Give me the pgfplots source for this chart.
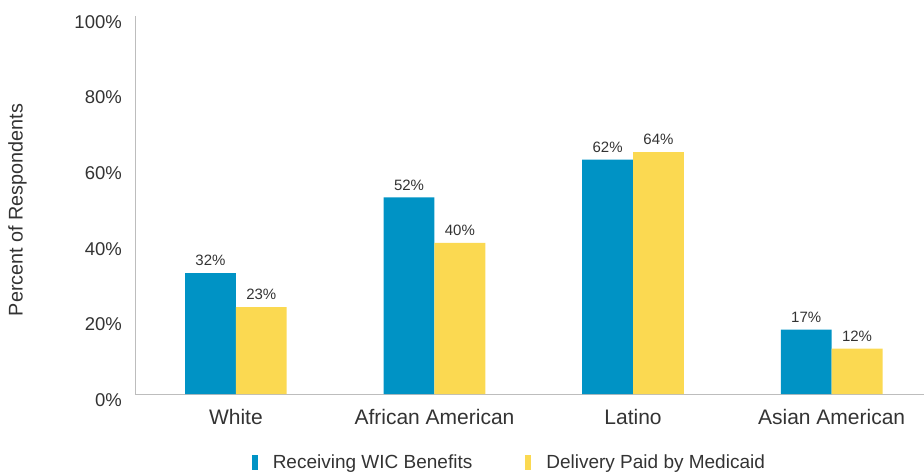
\documentclass[border=0pt]{standalone}
\usepackage{pgfplots}
\pgfplotsset{compat=1.18}
\usepackage{fontspec}
\setmainfont{Liberation Sans}
\definecolor{wicblue}{HTML}{0093C5}
\definecolor{medyellow}{HTML}{FBD951}
\definecolor{txt}{HTML}{333333}
\definecolor{axgray}{HTML}{BDBDBD}
\begin{document}
\begin{tikzpicture}
\begin{axis}[
  at={(0,0)}, anchor=south west,
  scale only axis, width=789bp, height=378bp,
  xmin=-0.508, xmax=3.465, ymin=0, ymax=100,
  axis x line*=bottom, axis y line*=left,
  axis line style={axgray, line width=0.8bp, -},
  major tick length=0pt,
  xtick={0,1,2,3},
  xticklabels={White,African American,Latino,Asian American},
  ytick={0,20,40,60,80,100},
  yticklabels={0\%,20\%,40\%,60\%,80\%,100\%},
  yticklabel style={font=\fontsize{18.5bp}{22bp}\selectfont, text=txt,
    anchor=east, inner sep=0pt, xshift=-13bp, yshift=-6bp},
  xticklabel style={font=\fontsize{21bp}{25bp}\selectfont, text=txt,
    anchor=north, inner sep=0pt, yshift=-15bp},
  ylabel={Percent of Respondents},
  ylabel style={at={(axis description cs:-0.149,0.487)}, anchor=center,
    font=\fontsize{19.8bp}{23bp}\selectfont, text=txt},
  ybar, bar width=0.256,
  nodes near coords={\pgfmathprintnumber{\pgfplotspointmeta}\%},
  every node near coord/.append style={font=\fontsize{15bp}{18bp}\selectfont,
    text=txt, inner sep=0pt, yshift=7bp},
  /pgf/number format/assume math mode=true,
  legend columns=2,
  legend image code/.code={\fill[#1] (0bp,-7.5bp) rectangle (6bp,7.5bp);},
  legend style={draw=none, fill=none, inner sep=0pt, outer sep=0pt,
    at={(rel axis cs:0.148,-0.18)}, anchor=west,
    font=\fontsize{19bp}{23bp}\selectfont, text=txt,
    nodes={inner sep=0pt},
    /tikz/every odd column/.append style={column sep=15bp},
    /tikz/every even column/.append style={column sep=53bp}},
]
\addplot[fill=wicblue, draw=none, bar shift=-0.128]
  coordinates {(0,32) (1,52) (2,62) (3,17)};
\addlegendentry{Receiving WIC Benefits}
\addplot[fill=medyellow, draw=none, bar shift=0.128]
  coordinates {(0,23) (1,40) (2,64) (3,12)};
\addlegendentry{Delivery Paid by Medicaid}
\end{axis}
\pgfresetboundingbox
\path (-135bp,-80bp) rectangle (789bp,394bp);
\end{tikzpicture}
\end{document}
